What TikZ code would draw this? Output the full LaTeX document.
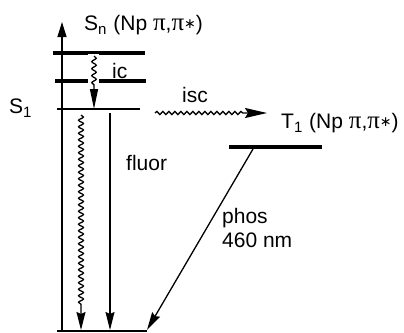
\documentclass[tikz,border=0pt]{standalone}
\usepackage{fontspec}
\setmainfont{Liberation Sans}
\newfontfamily\grk{Liberation Serif}
\newfontfamily\dvs{DejaVu Sans}
\usetikzlibrary{arrows.meta,decorations.pathmorphing}
\newcommand\mypi{{\grk\fontsize{25}{25}\selectfont π}}
\newcommand\pipistar{\mypi,\mypi\raisebox{1.5pt}{\dvs\fontsize{14}{14}\selectfont ∗}}
\newcommand\subsc[1]{\raisebox{-0.22em}{\fontsize{15}{15}\selectfont #1}}
\begin{document}
\begin{tikzpicture}[x=1pt,y=-1pt,
  lbl/.style={anchor=base west,inner sep=0pt,font=\fontsize{21}{24}\selectfont},
  thinl/.style={line width=1.3pt},
  thickl/.style={line width=4pt},
  headA/.style={-{Triangle[length=15pt,width=9pt]}},
  headB/.style={-{Triangle[length=20pt,width=8pt]}},
  headC/.style={-{Stealth[length=22pt,width=10pt,inset=3pt]}},
  headD/.style={-{Stealth[length=18pt,width=9pt,inset=2pt]}},
  wavy/.style={decorate,decoration={snake,amplitude=#1,segment length=6.5pt,post length=24pt}},
]
\useasboundingbox (0,0) rectangle (404,332);
% coordinates
\coordinate (axb) at (62,331);
\coordinate (axt) at (62,22);
\coordinate (snL) at (53,53);  \coordinate (snR) at (145,53);
\coordinate (s2L) at (55,81);  \coordinate (s2R) at (146,81);
\coordinate (s1L) at (57,109); \coordinate (s1R) at (140,109);
\coordinate (s0L) at (57,331); \coordinate (s0R) at (147,331);
\coordinate (t1L) at (229,147); \coordinate (t1R) at (322,147);
\coordinate (icA) at (94,56);  \coordinate (icB) at (94,109);
\coordinate (iscA) at (155,113); \coordinate (iscB) at (267,113);
\coordinate (flwA) at (81,115); \coordinate (flwB) at (81,330);
\coordinate (flsA) at (110,113); \coordinate (flsB) at (110,330);
\coordinate (phA) at (253,149); \coordinate (phB) at (147,330);
% axis
\draw[thinl,headA] (axb) -- (axt);
% levels
\draw[thickl] (snL) -- (snR);
\draw[thickl] (s2L) -- (s2R);
\draw[thinl] (s1L) -- (s1R);
\draw[thinl] (s0L) -- (s0R);
\draw[thickl] (t1L) -- (t1R);
% gaps round ic
\fill[white] (88,54) rectangle (99,58);
\fill[white] (88,78) rectangle (99,84);
% transitions
\draw[thinl,headB,decorate,decoration={snake,amplitude=2.2pt,segment length=7pt,post length=24pt}] (icA) -- (icB);
\draw[thinl,headC,decorate,decoration={snake,amplitude=1.6pt,segment length=6pt,post length=24pt}] (iscA) -- (iscB);
\draw[thinl,headD,wavy=2.4pt] (flwA) -- (flwB);
\draw[thinl,headD] (flsA) -- (flsB);
\draw[thinl,headD] (phA) -- (phB);
% labels
\node[lbl] (sn) at (84,30) {S\subsc{n}\hspace{1pt} (Np \pipistar)};
\node[lbl] (s1) at (9,113) {S\subsc{1}};
\node[lbl] (ic) at (112,78) {ic};
\node[lbl] (isc) at (182,102) {isc};
\node[lbl] (t1) at (281,128) {T\subsc{1}\hspace{1pt} (Np \pipistar)};
\node[lbl] (fl) at (126,170) {fluor};
\node[lbl] (ph) at (222,223) {phos};
\node[lbl] (nm) at (222,247) {460 nm};
\end{tikzpicture}
\end{document}
